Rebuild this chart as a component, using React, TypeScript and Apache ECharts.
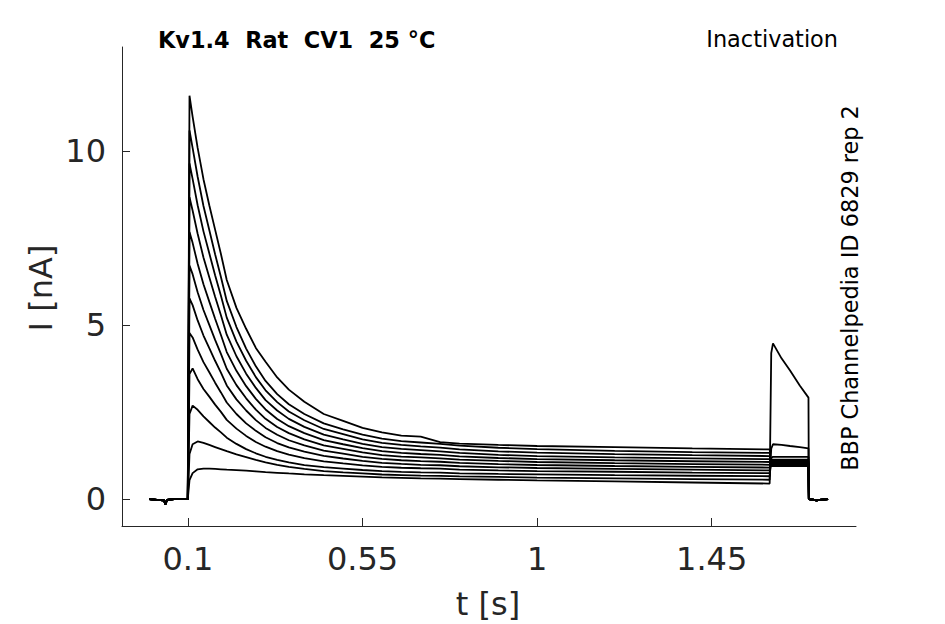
import React, { useEffect, useRef } from "react";
import * as echarts from "echarts";

const times = [
  0, 0.02, 0.038, 0.042, 0.046, 0.07, 0.0995,
  0.104, 0.112, 0.125, 0.14, 0.155, 0.17, 0.185, 0.2, 0.225, 0.25, 0.275, 0.3, 0.33, 0.36, 0.4, 0.45, 0.5, 0.55, 0.6, 0.65, 0.7, 0.75, 0.8, 0.9, 1.0, 1.2, 1.4, 1.5995,
  1.6035, 1.608, 1.63, 1.652, 1.677, 1.6995,
  1.7005, 1.72, 1.75,
];

const base = [0, -0.02, -0.03, -0.14, -0.02, 0.01, 0];
const tail = [0, -0.03, 0];

const trace1 = [...base, 11.6, 11.0, 10.1, 9.2, 8.45, 7.75, 7.05, 6.3, 5.5, 4.9, 4.35, 3.95, 3.5, 3.15, 2.8, 2.45, 2.25, 2.05, 1.92, 1.83, 1.8, 1.64, 1.6, 1.56, 1.53, 1.5, 1.46, 1.43, 0.95, 0.95, 0.95, 0.95, 0.95, 0.95, ...tail];
const trace2 = [...base, 10.6, 10.1, 9.27, 8.43, 7.74, 7.04, 6.39, 5.7, 4.95, 4.33, 3.82, 3.4, 3.02, 2.73, 2.45, 2.18, 2.01, 1.86, 1.74, 1.67, 1.63, 1.59, 1.54, 1.48, 1.44, 1.39, 1.355, 1.33, 0.97, 0.97, 0.97, 0.97, 0.97, 0.97, ...tail];
const trace3 = [...base, 9.65, 9.21, 8.45, 7.7, 7.07, 6.44, 5.85, 5.22, 4.53, 3.98, 3.51, 3.13, 2.79, 2.52, 2.27, 2.02, 1.87, 1.72, 1.62, 1.56, 1.52, 1.485, 1.43, 1.375, 1.34, 1.295, 1.265, 1.24, 0.99, 0.99, 0.99, 0.99, 0.99, 0.99, ...tail];
const trace4 = [...base, 8.68, 8.3, 7.63, 6.95, 6.38, 5.82, 5.29, 4.73, 4.11, 3.61, 3.2, 2.85, 2.55, 2.31, 2.08, 1.855, 1.72, 1.59, 1.5, 1.445, 1.41, 1.375, 1.33, 1.275, 1.24, 1.2, 1.175, 1.15, 1.01, 1.01, 1.01, 1.01, 1.01, 1.01, ...tail];
const trace5 = [...base, 7.68, 7.37, 6.77, 6.18, 5.68, 5.19, 4.72, 4.23, 3.69, 3.25, 2.885, 2.58, 2.305, 2.1, 1.9, 1.7, 1.58, 1.47, 1.385, 1.335, 1.3, 1.275, 1.23, 1.185, 1.155, 1.12, 1.092, 1.07, 1.03, 1.03, 1.03, 1.03, 1.03, 1.03, ...tail];
const trace6 = [...base, 6.72, 6.47, 5.95, 5.44, 5.01, 4.58, 4.18, 3.75, 3.28, 2.9, 2.575, 2.31, 2.075, 1.9, 1.72, 1.545, 1.45, 1.345, 1.27, 1.225, 1.2, 1.175, 1.14, 1.1, 1.07, 1.037, 1.011, 0.99, 1.05, 1.05, 1.05, 1.05, 1.05, 1.05, ...tail];
const trace7 = [...base, 5.77, 5.58, 5.14, 4.705, 4.34, 3.98, 3.64, 3.27, 2.87, 2.55, 2.275, 2.05, 1.855, 1.695, 1.545, 1.395, 1.31, 1.22, 1.16, 1.12, 1.096, 1.077, 1.043, 1.008, 0.984, 0.955, 0.93, 0.91, 1.07, 1.07, 1.07, 1.07, 1.07, 1.07, ...tail];
const trace8 = [...base, 4.78, 4.65, 4.3, 3.94, 3.65, 3.35, 3.07, 2.78, 2.45, 2.18, 1.965, 1.78, 1.615, 1.49, 1.365, 1.245, 1.17, 1.1, 1.046, 1.015, 0.99, 0.977, 0.947, 0.918, 0.898, 0.872, 0.849, 0.83, 1.1, 1.1, 1.1, 1.1, 1.1, 1.1, ...tail];
const trace9 = [...base, 3.6, 3.76, 3.45, 3.17, 2.95, 2.72, 2.51, 2.28, 2.03, 1.82, 1.645, 1.51, 1.38, 1.28, 1.18, 1.09, 1.03, 0.975, 0.93, 0.905, 0.89, 0.877, 0.85, 0.828, 0.81, 0.79, 0.765, 0.75, 1.14, 1.14, 1.14, 1.14, 1.14, 1.14, ...tail];
const trace10 = [...base, 2.45, 2.69, 2.57, 2.38, 2.22, 2.06, 1.92, 1.77, 1.59, 1.44, 1.32, 1.22, 1.13, 1.06, 0.98, 0.92, 0.88, 0.84, 0.805, 0.785, 0.773, 0.765, 0.745, 0.727, 0.714, 0.69, 0.675, 0.66, 1.18, 1.22, 1.22, 1.22, 1.22, 1.22, ...tail];
const trace11 = [...base, 1.3, 1.58, 1.66, 1.62, 1.56, 1.5, 1.44, 1.38, 1.29, 1.21, 1.13, 1.06, 0.99, 0.93, 0.87, 0.81, 0.77, 0.74, 0.71, 0.695, 0.68, 0.67, 0.655, 0.64, 0.62, 0.6, 0.58, 0.56, 1.45, 1.58, 1.56, 1.53, 1.5, 1.46, ...tail];
const trace12 = [...base, 0.55, 0.75, 0.86, 0.88, 0.88, 0.87, 0.86, 0.85, 0.835, 0.82, 0.8, 0.78, 0.76, 0.74, 0.715, 0.69, 0.67, 0.65, 0.63, 0.615, 0.6, 0.59, 0.58, 0.56, 0.54, 0.51, 0.48, 0.45, 4.2, 4.48, 4.05, 3.7, 3.27, 2.92, ...tail];

const traces = [trace1, trace2, trace3, trace4, trace5, trace6, trace7, trace8, trace9, trace10, trace11, trace12];

const xTicks = [0.1, 0.55, 1, 1.45];
const yTicks = [0, 5, 10];

const titleText = "Kv1.4  Rat  CV1  25 °C";
const protocolText = "Inactivation";
const sourceText = "BBP Channelpedia ID 6829 rep 2";
const xName = "t [s]";
const yName = "I [nA]";

const FONT = "DejaVu Sans";
const TXT = "#262626";

export default function App() {
  const ref = useRef<HTMLDivElement>(null);
  useEffect(() => {
    if (!ref.current) return;
    const chart = echarts.init(ref.current, undefined, { renderer: "svg" });
    const axisLine = { show: true, onZero: false, lineStyle: { color: TXT, width: 1 } };
    const tickBase = { show: true, inside: true, length: 8, lineStyle: { color: TXT, width: 1 } };
    const smallText = (text: string, x: number, y: number, align: string, bold: boolean, rot = 0) => ({
      type: "text",
      x,
      y,
      rotation: rot,
      style: {
        text,
        fontFamily: FONT,
        fontSize: 22.4,
        fontWeight: bold ? "bold" : "normal",
        fill: "#000",
        textAlign: align,
        textVerticalAlign: "middle",
        align,
        verticalAlign: "middle",
      },
    });
    const bigText = (text: string, x: number, y: number, rot = 0) => ({
      type: "text",
      x,
      y,
      rotation: rot,
      style: {
        text,
        fontFamily: FONT,
        fontSize: 32,
        fill: TXT,
        textAlign: "center",
        textVerticalAlign: "middle",
        align: "center",
        verticalAlign: "middle",
      },
    });
    chart.setOption({
      animation: false,
      backgroundColor: "#ffffff",
      grid: { left: 122, right: 89, top: 47, bottom: 98, containLabel: false },
      xAxis: {
        type: "value",
        min: -0.07,
        max: 1.822,
        axisLine,
        splitLine: { show: false },
        axisTick: { ...tickBase, customValues: xTicks },
        axisLabel: {
          customValues: xTicks,
          fontFamily: FONT,
          fontSize: 32,
          color: TXT,
          margin: 17,
          formatter: (v: number) => String(v),
        },
      },
      yAxis: {
        type: "value",
        min: -0.77,
        max: 13,
        axisLine,
        splitLine: { show: false },
        axisTick: { ...tickBase, customValues: yTicks },
        axisLabel: {
          customValues: yTicks,
          fontFamily: FONT,
          fontSize: 32,
          color: TXT,
          margin: 16,
          formatter: (v: number) => String(v),
        },
      },
      graphic: [
        smallText(titleText, 158, 40, "left", true),
        smallText(protocolText, 838, 39, "right", false),
        smallText(sourceText, 850, 288, "center", false, Math.PI / 2),
        bigText(xName, 488, 604),
        bigText(yName, 41, 288, Math.PI / 2),
      ],
      series: traces.map((vals, k) => ({
        type: "line",
        name: "trace " + (k + 1),
        data: times.map((t, i) => [t, vals[i]]),
        showSymbol: false,
        symbol: "none",
        lineStyle: { color: "#000", width: 1.8 },
        silent: true,
      })),
    });
    return () => chart.dispose();
  }, []);
  return (
    <div
      ref={ref}
      style={{ position: "fixed", left: 0, top: 0, width: 945, height: 624, background: "#fff" }}
    />
  );
}
